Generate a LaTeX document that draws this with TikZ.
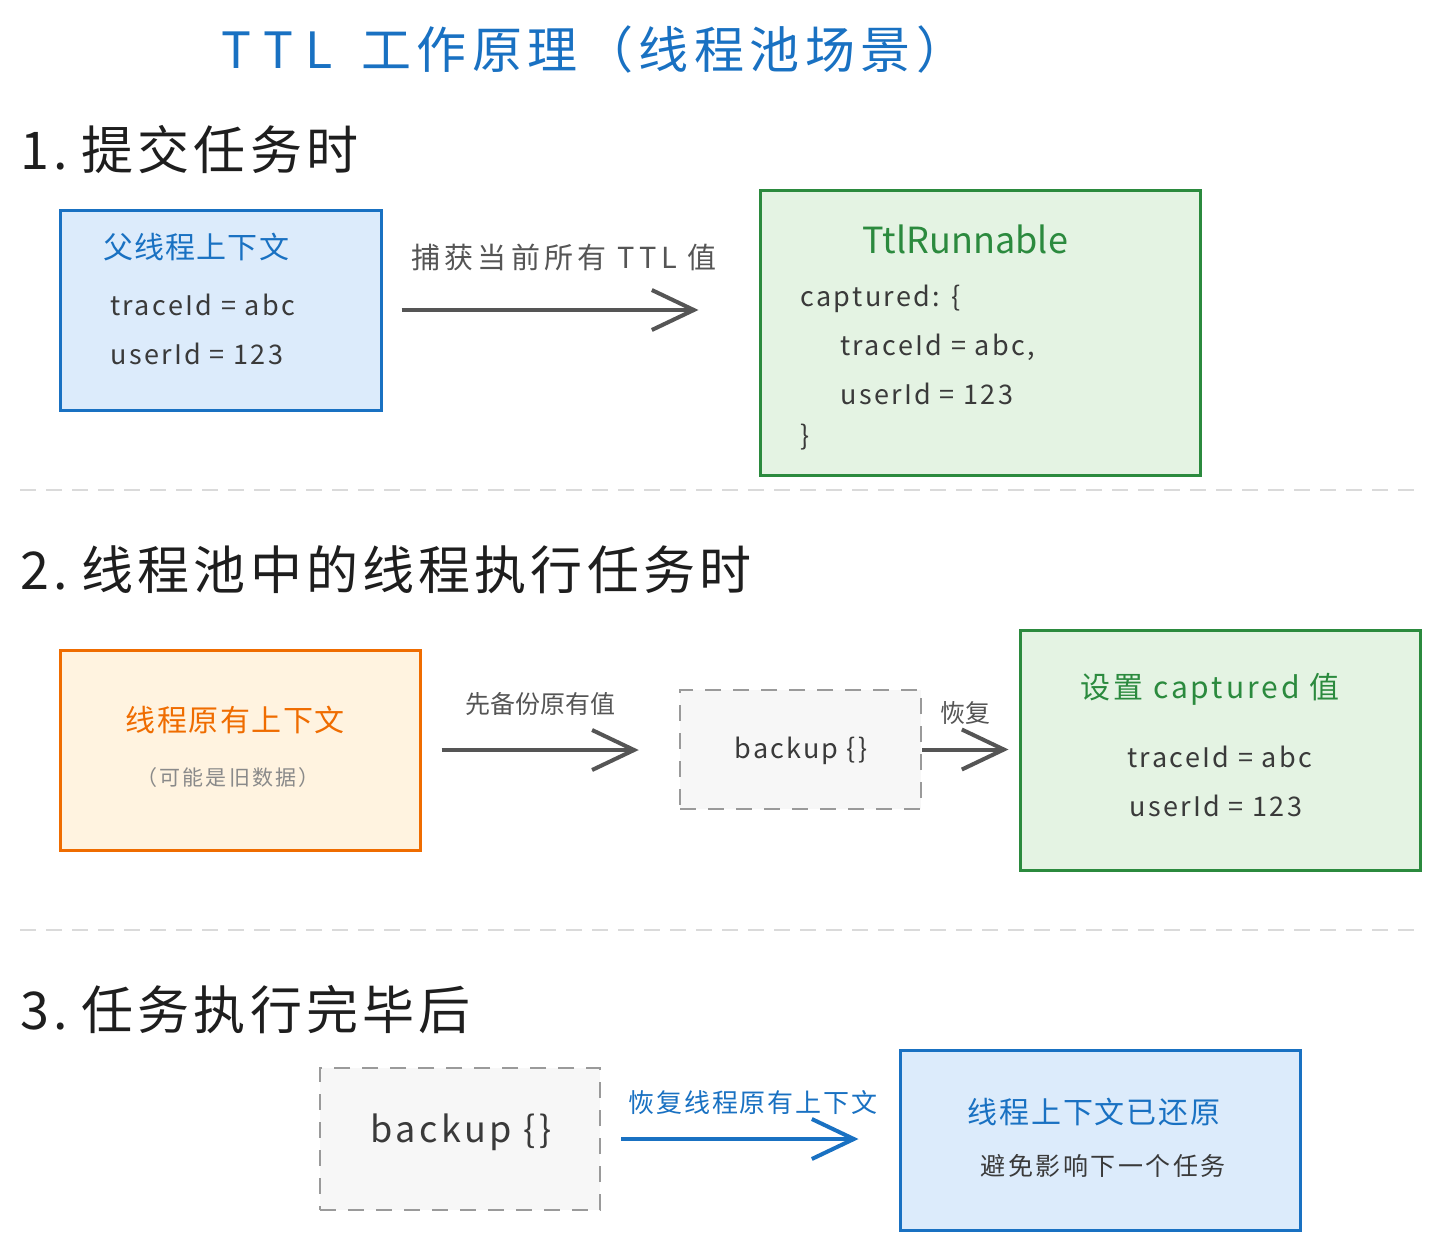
\documentclass[tikz,border=0pt]{standalone}
\usepackage{fontspec}
\setmainfont{Noto Sans CJK SC}
\usetikzlibrary{arrows.meta}
\definecolor{tblue}{HTML}{1971C2}
\definecolor{bfill}{HTML}{DCEBFB}
\definecolor{tgreen}{HTML}{2B8A3E}
\definecolor{gfill}{HTML}{E4F3E3}
\definecolor{torange}{HTML}{EF6C00}
\definecolor{ofill}{HTML}{FFF3E0}
\definecolor{tdark}{HTML}{1E1E1E}
\definecolor{tbody}{HTML}{3A3A3A}
\definecolor{tgray}{HTML}{555555}
\definecolor{tlgray}{HTML}{8A8A8A}
\definecolor{dgray}{HTML}{9A9A9A}
\definecolor{dfill}{HTML}{F7F7F7}
\definecolor{sepgray}{HTML}{DADADA}
\tikzset{
  fs/.style 2 args={font=\fontsize{#1}{#1}\selectfont\addfontfeatures{LetterSpace=#2}},
  box/.style={draw, line width=3pt, inner sep=0pt},
  bluebox/.style={box, draw=tblue, fill=bfill},
  greenbox/.style={box, draw=tgreen, fill=gfill},
  orangebox/.style={box, draw=torange, fill=ofill},
  dashbox/.style={draw=dgray, fill=dfill, line width=2.5pt, dash pattern=on 16pt off 12pt, inner sep=0pt},
  txt/.style={inner sep=0pt, anchor=base west},
  ctxt/.style={inner sep=0pt, anchor=base},
  arr/.style={draw=tgray, line width=4pt, -{Straight Barb[length=42pt,width=40pt,line width=4pt]}},
  sep/.style={draw=sepgray, line width=2pt, dash pattern=on 16pt off 10pt},
  heading/.style={txt, fs={52}{8}, text=tdark},
  code/.style={txt, fs={27}{9}, text=tbody},
}
\begin{document}
\begin{tikzpicture}[x=1pt,y=-1pt]
\useasboundingbox[fill=white] (0,0) rectangle (1440,1250);

% title
\node[ctxt, fs={50}{11}, text=tblue] (title) at (594,68) {T\hspace{12pt}T\hspace{12pt}L\hspace{28pt}工作原理（线程池场景）};

% section 1
\node[heading] (h1) at (20,169) {1.\hspace{14pt}提交任务时};
\node[bluebox, minimum width=321pt, minimum height=200pt] (b1) at (220.5,310) {};
\node[txt, fs={30}{4}, text=tblue] (b1t) at (103,258) {父线程上下文};
\node[code] (b1a) at (110,315) {traceId = abc};
\node[code] (b1b) at (110,364) {userId = 123};

\node[greenbox, minimum width=440pt, minimum height=285pt] (g1) at (980,332.5) {};
\node[ctxt, fs={36}{0}, text=tgreen] (g1t) at (965,253) {TtlRunnable};
\node[code] (g1a) at (800,306) {captured: \{};
\node[code] (g1b) at (840,355) {traceId = abc,};
\node[code] (g1c) at (840,404) {userId = 123};
\node[code] (g1d) at (800,445) {\}};

\draw[arr, shorten <=19pt, shorten >=60pt] (b1.east) -- (g1.west |- b1.east);
\node[ctxt, fs={29}{15}, text=tgray] (l1) at (564,268) {捕获当前所有 TTL 值};

\coordinate (s1a) at (20,490);
\coordinate (s1b) at (1420,490);
\draw[sep] (s1a) -- (s1b);

% section 2
\node[heading] (h2) at (20,589) {2.\hspace{14pt}线程池中的线程执行任务时};
\node[orangebox, minimum width=360pt, minimum height=200pt] (o2) at (240,750) {};
\node[ctxt, fs={30}{5}, text=torange] (o2t) at (235,731) {线程原有上下文};
\node[ctxt, fs={21}{10}, text=tlgray] (o2s) at (228,785) {（可能是旧数据）};

\node[dashbox, minimum width=241pt, minimum height=119pt] (d2) at (800.5,749.5) {};
\node[ctxt, fs={27}{8}, text=tbody] (d2t) at (801,758) {backup \{\}};

\node[greenbox, minimum width=400pt, minimum height=240pt] (g2) at (1220,750) {};
\node[ctxt, fs={30}{10}, text=tgreen] (g2t) at (1210,698) {设置 captured 值};
\node[code] (g2a) at (1127,767) {traceId = abc};
\node[code] (g2b) at (1129,816) {userId = 123};

\draw[arr, shorten <=20pt, shorten >=40pt] (o2.east) -- (d2.west |- o2.east);
\node[ctxt, fs={25}{0}, text=tgray] (l2) at (540,713) {先备份原有值};
\draw[arr, shorten <=0pt, shorten >=10pt] (d2.east) -- (g2.west |- d2.east);
\node[ctxt, fs={25}{0}, text=tgray] (l3) at (965,722) {恢复};

\coordinate (s2a) at (20,930);
\coordinate (s2b) at (1420,930);
\draw[sep] (s2a) -- (s2b);

% section 3
\node[heading] (h3) at (20,1029) {3.\hspace{14pt}任务执行完毕后};
\node[dashbox, minimum width=280pt, minimum height=142pt] (d3) at (460,1139) {};
\node[ctxt, fs={36}{10}, text=tbody] (d3t) at (461,1142) {backup \{\}};

\node[bluebox, minimum width=400pt, minimum height=180pt] (b3) at (1100,1140) {};
\node[ctxt, fs={30}{6}, text=tblue] (b3t) at (1094,1123) {线程上下文已还原};
\node[ctxt, fs={25}{10}, text=tbody] (b3s) at (1103,1175) {避免影响下一个任务};

\draw[arr, draw=tblue, shorten <=20pt, shorten >=40pt] (d3.east) -- (b3.west |- d3.east);
\node[ctxt, fs={26}{7}, text=tblue] (l4) at (753,1112) {恢复线程原有上下文};
\end{tikzpicture}
\end{document}
